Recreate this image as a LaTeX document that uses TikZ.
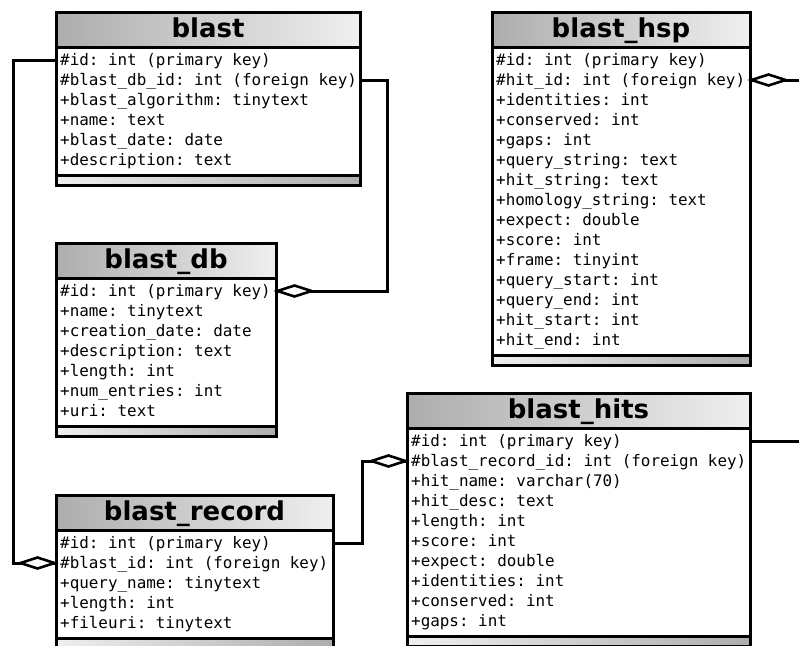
\documentclass[tikz,border=0pt]{standalone}
\usepackage{fontspec}
\setmainfont{DejaVu Sans}
\setmonofont{DejaVu Sans Mono}

\definecolor{headdark}{HTML}{ADADAD}
\definecolor{headlight}{HTML}{EFEFEF}

\tikzset{
  tbl/.style={draw=black, line width=3pt, inner sep=0pt, outer sep=0pt, anchor=north west},
  headbox/.style={tbl, left color=headdark, right color=headlight},
  bodybox/.style={tbl, fill=white},
  footbox/.style={tbl, left color=headlight, right color=headdark},
  titletext/.style={font=\fontsize{26}{30}\selectfont\bfseries, inner sep=0pt, anchor=base},
  rowtext/.style={font=\fontsize{15.9}{18}\selectfont\ttfamily, inner sep=0pt,
                  anchor=base west, text height=13pt, text depth=3pt},
  conn/.style={draw=black, line width=3pt},
  aggbox/.style={draw=black, fill=white, line width=2.6pt, line join=miter},
}

% \dbtable{name}{left x}{right x}{top y}{number of rows}{title}{rows}
\newcommand\dbtable[7]{%
  \pgfmathsetmacro\tblw{#3-#2}%
  \pgfmathsetmacro\tblh{20*#5+8}%
  \node[headbox, minimum width=\tblw pt, minimum height=35pt] (#1-head) at (#2,#4) {};
  \node[titletext] (#1-title) at ({(#2+#3)/2},{#4+25}) {#6};
  \node[bodybox, minimum width=\tblw pt, minimum height=\tblh pt] (#1) at (#2,{#4+35}) {};
  \node[footbox, minimum width=\tblw pt, minimum height=10pt] (#1-foot) at (#2,{#4+35+\tblh}) {};
  \foreach \txt [count=\i] in {#7} {
    \node[rowtext] (#1-r\i) at ({#2+4},{#4+53+20*(\i-1)}) {\txt};
  }%
}

% aggregation diamond touching point #1, pointing away in direction #2 (1 = right, -1 = left)
\newcommand\aggdiamond[2]{%
  \draw[aggbox] ($(#1)+({#2*1.5},0)$) -- ++({#2*17},-5.5) -- ++({#2*17},5.5)
    -- ++({-#2*17},5.5) -- cycle;%
}

\usetikzlibrary{calc}

\begin{document}
\begin{tikzpicture}[x=1pt, y=-1pt]
\useasboundingbox (0,0) rectangle (799,645);

\dbtable{blast}{56}{360}{12}{6}{blast}{%
  \#id: int (primary key),
  \#blast\_db\_id: int (foreign key),
  +blast\_algorithm: tinytext,
  +name: text,
  +blast\_date: date,
  +description: text}

\dbtable{db}{56}{276}{243}{7}{blast\_db}{%
  \#id: int (primary key),
  +name: tinytext,
  +creation\_date: date,
  +description: text,
  +length: int,
  +num\_entries: int,
  +uri: text}

\dbtable{hsp}{492}{750}{12}{15}{blast\_hsp}{%
  \#id: int (primary key),
  \#hit\_id: int (foreign key),
  +identities: int,
  +conserved: int,
  +gaps: int,
  +query\_string: text,
  +hit\_string: text,
  +homology\_string: text,
  +expect: double,
  +score: int,
  +frame: tinyint,
  +query\_start: int,
  +query\_end: int,
  +hit\_start: int,
  +hit\_end: int}

\dbtable{hits}{407}{750}{393}{10}{blast\_hits}{%
  \#id: int (primary key),
  \#blast\_record\_id: int (foreign key),
  +hit\_name: varchar(70),
  +hit\_desc: text,
  +length: int,
  +score: int,
  +expect: double,
  +identities: int,
  +conserved: int,
  +gaps: int}

\dbtable{record}{56}{333}{495}{5}{blast\_record}{%
  \#id: int (primary key),
  \#blast\_id: int (foreign key),
  +query\_name: tinytext,
  +length: int,
  +fileuri: tinytext}

% routing columns for the connectors
\coordinate (leftbus) at (13,0);
\coordinate (dbbus) at (387,0);
\coordinate (recbus) at (362,0);
\coordinate (rightedge) at (799,0);

% end points on the table edges
\coordinate (blastA) at (blast-r1 -| blast.west);
\coordinate (blastB) at (blast-r2 -| blast.east);
\coordinate (dbA)    at (db-r1 -| db.east);
\coordinate (recA)   at (record-r1 -| record.east);
\coordinate (recB)   at (record-r2 -| record.west);
\coordinate (hitsA)  at (hits-r1 -| hits.east);
\coordinate (hitsB)  at (hits-r2 -| hits.west);
\coordinate (hspA)   at (hsp-r2 -| hsp.east);

% blast.id <- blast_record.blast_id
\draw[conn] (blastA) -- (blastA -| leftbus) |- (recB);
\aggdiamond{recB}{-1}
% blast.blast_db_id -> blast_db.id
\draw[conn] (blastB) -- (blastB -| dbbus) |- (dbA);
\aggdiamond{dbA}{1}
% blast_record.id <- blast_hits.blast_record_id
\draw[conn] (recA) -- (recA -| recbus) |- (hitsB);
\aggdiamond{hitsB}{-1}
% blast_hsp.hit_id and blast_hits.id leave to the right
\draw[conn] (hspA) -- (hspA -| rightedge);
\aggdiamond{hspA}{1}
\draw[conn] (hitsA) -- (hitsA -| rightedge);
\end{tikzpicture}
\end{document}
